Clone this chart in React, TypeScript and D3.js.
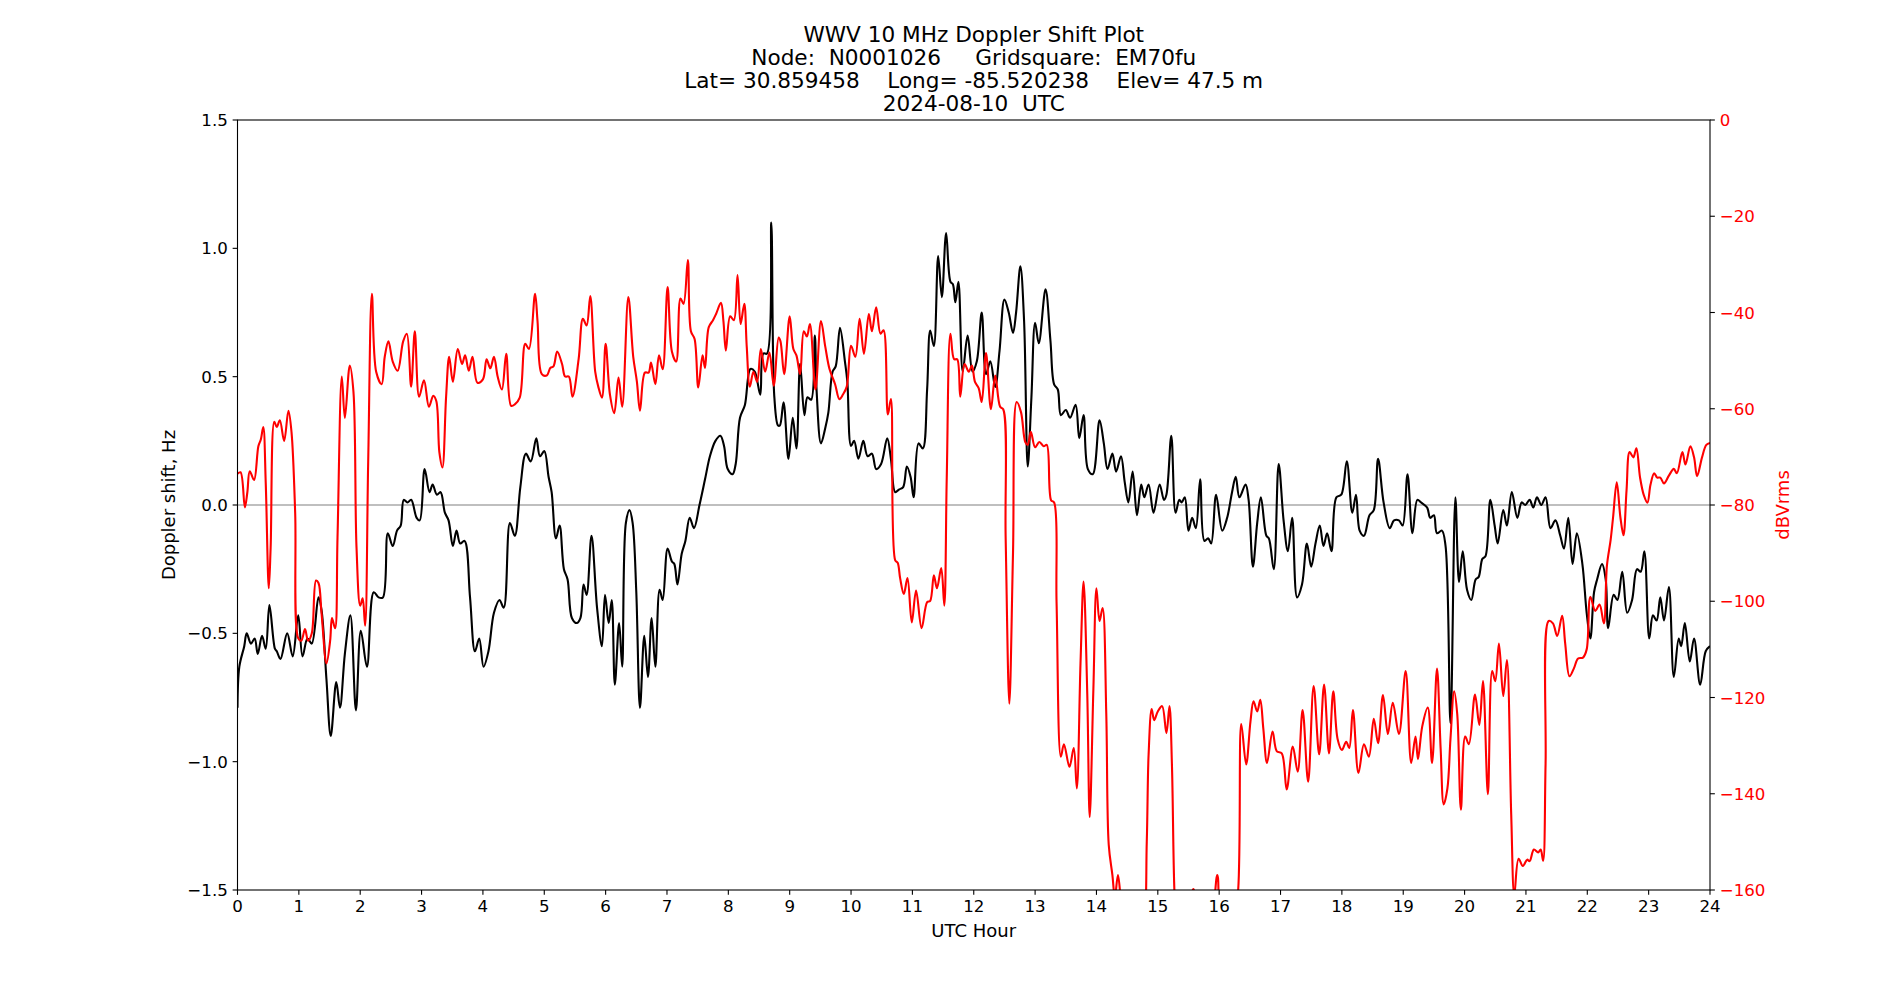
import React from 'react';
import * as d3 from 'd3';

// Doppler shift (Hz), [UTC hour, value]
const dopplerSeries: [number, number][] = [
  [0.0, -0.79], [0.03, -0.63], [0.11, -0.55], [0.15, -0.5], [0.22, -0.54], [0.28, -0.52], [0.33, -0.58],
  [0.4, -0.51], [0.46, -0.56], [0.52, -0.39], [0.61, -0.56], [0.64, -0.57], [0.7, -0.6], [0.81, -0.5],
  [0.9, -0.59], [0.99, -0.43], [1.06, -0.59], [1.14, -0.52], [1.21, -0.54], [1.32, -0.36], [1.37, -0.41],
  [1.45, -0.68], [1.52, -0.9], [1.61, -0.69], [1.67, -0.79], [1.75, -0.58], [1.84, -0.43], [1.93, -0.8],
  [2.01, -0.49], [2.11, -0.63], [2.22, -0.34], [2.3, -0.36], [2.37, -0.36], [2.45, -0.11], [2.53, -0.16],
  [2.6, -0.1], [2.66, -0.08], [2.71, 0.02], [2.77, 0.01], [2.83, 0.02], [2.92, -0.05], [2.97, -0.06],
  [3.05, 0.14], [3.13, 0.05], [3.18, 0.08], [3.25, 0.04], [3.31, 0.05], [3.38, -0.03], [3.44, -0.06],
  [3.51, -0.16], [3.57, -0.1], [3.63, -0.15], [3.7, -0.14], [3.79, -0.36], [3.87, -0.57], [3.94, -0.52],
  [4.01, -0.63], [4.09, -0.57], [4.18, -0.42], [4.27, -0.37], [4.34, -0.4], [4.44, -0.07], [4.52, -0.12],
  [4.61, 0.07], [4.7, 0.2], [4.78, 0.17], [4.87, 0.26], [4.93, 0.19], [5.0, 0.21], [5.07, 0.11],
  [5.12, 0.05], [5.19, -0.13], [5.25, -0.08], [5.32, -0.25], [5.38, -0.29], [5.45, -0.44], [5.53, -0.46],
  [5.59, -0.44], [5.64, -0.31], [5.69, -0.35], [5.77, -0.12], [5.86, -0.4], [5.94, -0.55], [5.99, -0.35],
  [6.05, -0.46], [6.1, -0.37], [6.15, -0.7], [6.22, -0.46], [6.27, -0.63], [6.33, -0.07], [6.39, -0.02],
  [6.44, -0.07], [6.5, -0.34], [6.56, -0.79], [6.63, -0.51], [6.69, -0.67], [6.75, -0.44], [6.81, -0.63],
  [6.88, -0.33], [6.93, -0.37], [7.01, -0.17], [7.08, -0.22], [7.12, -0.23], [7.17, -0.31], [7.24, -0.19],
  [7.3, -0.14], [7.37, -0.05], [7.44, -0.09], [7.53, 0.0], [7.62, 0.1], [7.7, 0.19], [7.79, 0.25],
  [7.87, 0.27], [7.93, 0.23], [7.99, 0.14], [8.07, 0.12], [8.12, 0.16], [8.19, 0.34], [8.27, 0.39],
  [8.36, 0.53], [8.43, 0.52], [8.52, 0.43], [8.57, 0.59], [8.63, 0.59], [8.7, 1.1], [8.75, 0.42],
  [8.81, 0.31], [8.84, 0.31], [8.9, 0.4], [8.98, 0.18], [9.05, 0.34], [9.11, 0.22], [9.17, 0.55],
  [9.24, 0.35], [9.29, 0.42], [9.35, 0.41], [9.41, 0.66], [9.44, 0.44], [9.51, 0.24], [9.58, 0.3],
  [9.63, 0.36], [9.7, 0.52], [9.75, 0.54], [9.82, 0.69], [9.9, 0.56], [9.94, 0.48], [10.0, 0.23],
  [10.05, 0.25], [10.12, 0.18], [10.2, 0.25], [10.27, 0.19], [10.34, 0.2], [10.41, 0.14], [10.49, 0.16],
  [10.59, 0.26], [10.65, 0.18], [10.72, 0.05], [10.78, 0.06], [10.85, 0.07], [10.91, 0.15], [10.97, 0.11],
  [11.02, 0.03], [11.1, 0.24], [11.17, 0.22], [11.24, 0.45], [11.29, 0.68], [11.35, 0.62], [11.42, 0.97],
  [11.48, 0.81], [11.55, 1.06], [11.62, 0.87], [11.66, 0.86], [11.7, 0.79], [11.75, 0.87], [11.82, 0.52],
  [11.9, 0.66], [11.98, 0.52], [12.05, 0.56], [12.13, 0.75], [12.2, 0.51], [12.27, 0.56], [12.35, 0.46],
  [12.42, 0.6], [12.5, 0.8], [12.57, 0.75], [12.64, 0.67], [12.69, 0.75], [12.76, 0.93], [12.82, 0.72],
  [12.88, 0.15], [12.94, 0.42], [13.0, 0.71], [13.06, 0.63], [13.17, 0.84], [13.25, 0.64], [13.31, 0.47],
  [13.37, 0.45], [13.42, 0.35], [13.5, 0.37], [13.57, 0.34], [13.66, 0.39], [13.72, 0.26], [13.79, 0.35],
  [13.86, 0.14], [13.94, 0.12], [14.05, 0.33], [14.12, 0.24], [14.18, 0.14], [14.26, 0.2], [14.32, 0.13],
  [14.4, 0.19], [14.46, 0.09], [14.52, 0.01], [14.59, 0.13], [14.66, -0.04], [14.73, 0.08], [14.78, 0.03],
  [14.85, 0.08], [14.93, -0.03], [15.03, 0.08], [15.1, 0.02], [15.14, 0.04], [15.22, 0.27], [15.29, -0.03],
  [15.35, 0.02], [15.39, 0.01], [15.44, 0.03], [15.5, -0.1], [15.56, -0.05], [15.62, -0.09], [15.69, 0.1],
  [15.76, -0.14], [15.82, -0.13], [15.87, -0.15], [15.95, 0.04], [16.05, -0.1], [16.13, -0.05], [16.21, 0.05],
  [16.27, 0.11], [16.33, 0.03], [16.43, 0.08], [16.48, 0.02], [16.55, -0.24], [16.62, -0.07], [16.68, 0.03],
  [16.77, -0.12], [16.81, -0.13], [16.89, -0.25], [16.97, 0.16], [17.05, -0.06], [17.12, -0.18], [17.19, -0.05],
  [17.27, -0.36], [17.35, -0.31], [17.43, -0.15], [17.5, -0.24], [17.57, -0.15], [17.64, -0.08], [17.7, -0.16],
  [17.76, -0.11], [17.83, -0.18], [17.91, 0.03], [17.99, 0.04], [18.08, 0.17], [18.17, -0.03], [18.23, 0.04],
  [18.29, -0.1], [18.36, -0.12], [18.45, -0.04], [18.52, -0.02], [18.59, 0.18], [18.68, 0.01], [18.78, -0.09],
  [18.85, -0.06], [18.93, -0.06], [18.99, -0.08], [19.07, 0.12], [19.15, -0.11], [19.23, 0.02], [19.29, 0.01],
  [19.39, -0.01], [19.44, -0.05], [19.5, -0.04], [19.55, -0.11], [19.63, -0.1], [19.69, -0.16], [19.77, -0.85],
  [19.85, 0.03], [19.91, -0.3], [19.97, -0.18], [20.04, -0.33], [20.11, -0.37], [20.18, -0.29], [20.23, -0.28],
  [20.29, -0.21], [20.34, -0.2], [20.42, 0.02], [20.49, -0.08], [20.54, -0.15], [20.63, -0.02], [20.69, -0.08],
  [20.77, 0.05], [20.86, -0.05], [20.93, 0.01], [20.99, 0.0], [21.06, 0.02], [21.12, -0.01], [21.18, 0.03],
  [21.25, 0.0], [21.32, 0.03], [21.4, -0.09], [21.48, -0.06], [21.56, -0.12], [21.62, -0.17], [21.69, -0.05],
  [21.76, -0.23], [21.83, -0.11], [21.92, -0.23], [21.99, -0.42], [22.05, -0.52], [22.11, -0.34], [22.16, -0.29],
  [22.24, -0.23], [22.3, -0.29], [22.34, -0.48], [22.43, -0.35], [22.49, -0.37], [22.57, -0.26], [22.65, -0.42],
  [22.73, -0.37], [22.81, -0.25], [22.87, -0.26], [22.93, -0.18], [23.01, -0.52], [23.07, -0.43], [23.13, -0.45],
  [23.19, -0.36], [23.25, -0.45], [23.33, -0.32], [23.41, -0.67], [23.49, -0.52], [23.53, -0.55], [23.59, -0.46],
  [23.67, -0.61], [23.74, -0.52], [23.84, -0.7], [23.93, -0.57], [24.0, -0.55],
];

// received power (dBVrms), [UTC hour, value]; values under -160 fall off the plot
const powerSeries: [number, number][] = [
  [0.0, -73.5], [0.05, -73.2], [0.12, -80.5], [0.16, -77.4], [0.2, -73.0], [0.27, -74.8], [0.34, -67.8],
  [0.38, -66.4], [0.42, -63.8], [0.46, -75.3], [0.51, -97.3], [0.54, -88.9], [0.6, -62.7], [0.64, -63.8],
  [0.69, -62.4], [0.76, -66.7], [0.83, -60.4], [0.88, -64.8], [0.94, -81.6], [0.99, -107.7], [1.04, -108.2],
  [1.1, -105.8], [1.15, -108.2], [1.21, -106.7], [1.28, -95.7], [1.32, -96.2], [1.37, -102.5], [1.45, -112.9],
  [1.51, -108.2], [1.54, -103.5], [1.59, -105.6], [1.63, -86.8], [1.7, -53.3], [1.75, -61.9], [1.83, -51.0],
  [1.89, -56.5], [1.94, -88.9], [2.0, -100.9], [2.04, -99.4], [2.08, -105.1], [2.13, -71.1], [2.19, -36.1],
  [2.26, -52.3], [2.35, -54.9], [2.4, -49.2], [2.46, -46.0], [2.53, -50.2], [2.61, -52.1], [2.7, -46.0],
  [2.76, -44.4], [2.83, -55.4], [2.89, -43.9], [2.96, -57.5], [3.04, -54.1], [3.12, -59.6], [3.19, -57.3],
  [3.24, -58.4], [3.29, -69.0], [3.34, -72.2], [3.4, -57.5], [3.45, -49.2], [3.51, -54.4], [3.59, -47.6],
  [3.66, -50.7], [3.71, -48.9], [3.77, -52.1], [3.83, -49.2], [3.91, -54.6], [4.0, -53.9], [4.06, -49.7],
  [4.12, -51.6], [4.18, -49.2], [4.24, -53.3], [4.31, -56.0], [4.38, -48.6], [4.46, -59.4], [4.52, -59.1],
  [4.6, -57.7], [4.69, -46.5], [4.75, -47.6], [4.85, -36.1], [4.89, -41.8], [4.96, -52.8], [5.04, -53.1],
  [5.1, -51.5], [5.15, -51.2], [5.21, -48.1], [5.29, -50.7], [5.34, -53.3], [5.4, -53.3], [5.46, -57.5],
  [5.56, -49.7], [5.63, -41.3], [5.69, -42.7], [5.75, -36.6], [5.83, -52.3], [5.88, -55.4], [5.94, -57.7],
  [6.0, -46.5], [6.07, -57.0], [6.14, -60.9], [6.21, -53.5], [6.27, -59.6], [6.37, -36.8], [6.45, -49.2],
  [6.51, -54.4], [6.56, -60.4], [6.64, -52.5], [6.7, -52.5], [6.74, -50.4], [6.81, -54.9], [6.87, -48.9],
  [6.93, -51.8], [7.01, -34.7], [7.08, -48.1], [7.15, -50.2], [7.22, -37.1], [7.27, -38.2], [7.34, -29.1],
  [7.39, -43.9], [7.45, -45.5], [7.51, -55.6], [7.58, -48.9], [7.62, -51.5], [7.68, -43.1], [7.75, -41.6],
  [7.8, -40.3], [7.88, -38.0], [7.92, -41.8], [7.96, -47.9], [8.03, -40.8], [8.09, -41.6], [8.15, -32.2],
  [8.2, -42.4], [8.26, -38.2], [8.3, -47.1], [8.35, -55.4], [8.41, -52.3], [8.47, -54.4], [8.53, -47.6],
  [8.6, -52.3], [8.67, -48.3], [8.74, -55.2], [8.82, -45.2], [8.85, -46.0], [8.91, -52.8], [9.0, -40.8],
  [9.06, -47.6], [9.11, -48.9], [9.17, -52.8], [9.23, -43.9], [9.28, -45.0], [9.33, -42.4], [9.42, -56.0],
  [9.51, -41.8], [9.58, -47.1], [9.65, -51.8], [9.74, -54.9], [9.81, -58.0], [9.87, -57.0], [9.93, -55.4],
  [10.0, -46.9], [10.07, -49.2], [10.14, -41.3], [10.21, -48.6], [10.29, -40.3], [10.34, -43.9], [10.41, -38.9],
  [10.48, -44.4], [10.53, -43.7], [10.6, -61.2], [10.65, -58.0], [10.72, -91.5], [10.76, -92.0], [10.8, -95.2],
  [10.86, -98.5], [10.92, -95.2], [10.99, -104.4], [11.06, -97.8], [11.15, -105.6], [11.24, -100.2], [11.29, -99.9],
  [11.35, -94.6], [11.4, -97.3], [11.47, -93.1], [11.52, -100.9], [11.56, -74.3], [11.62, -44.4], [11.68, -49.7],
  [11.73, -49.7], [11.78, -57.5], [11.85, -50.7], [11.92, -52.3], [11.97, -51.0], [12.02, -54.4], [12.08, -55.7],
  [12.13, -58.6], [12.2, -48.4], [12.28, -60.1], [12.35, -53.1], [12.43, -59.6], [12.48, -60.1], [12.52, -86.8],
  [12.58, -121.3], [12.64, -89.9], [12.7, -58.6], [12.77, -60.7], [12.84, -66.9], [12.88, -67.5], [12.93, -64.8],
  [13.0, -68.0], [13.07, -66.9], [13.14, -67.8], [13.19, -67.5], [13.26, -79.0], [13.31, -79.5], [13.35, -100.4],
  [13.42, -132.3], [13.47, -129.7], [13.56, -134.4], [13.63, -130.5], [13.68, -138.9], [13.74, -112.9], [13.79, -95.9],
  [13.85, -119.2], [13.89, -144.8], [13.95, -118.2], [14.0, -97.3], [14.05, -104.1], [14.1, -101.4], [14.16, -123.4],
  [14.2, -150.6], [14.26, -156.9], [14.3, -161.5], [14.35, -156.9], [14.4, -162.5], [14.48, -172], [14.62, -175],
  [14.76, -170], [14.82, -150], [14.85, -131.8], [14.9, -122.4], [14.94, -124.7], [15.0, -122.9], [15.07, -121.8],
  [15.14, -127.4], [15.19, -121.8], [15.23, -133.9], [15.27, -160], [15.32, -172], [15.45, -168], [15.58, -159.8],
  [15.7, -170], [15.85, -168], [15.97, -156.9], [16.05, -170], [16.2, -172], [16.31, -160], [16.36, -125.5],
  [16.44, -133.9], [16.51, -125.0], [16.56, -120.8], [16.62, -122.9], [16.67, -120.5], [16.72, -126.5], [16.78, -133.6],
  [16.87, -127.1], [16.94, -131.2], [17.02, -131.6], [17.1, -139.1], [17.2, -130.2], [17.28, -135.4], [17.36, -122.6],
  [17.45, -137.5], [17.54, -117.6], [17.63, -131.8], [17.71, -117.3], [17.79, -131.6], [17.86, -118.7], [17.93, -128.6],
  [18.0, -130.9], [18.07, -129.2], [18.12, -130.5], [18.18, -122.6], [18.27, -135.7], [18.36, -129.7], [18.44, -132.3],
  [18.52, -124.4], [18.59, -129.5], [18.67, -119.5], [18.75, -127.6], [18.83, -121.1], [18.93, -127.6], [19.04, -114.5],
  [19.13, -133.6], [19.2, -128.1], [19.24, -132.8], [19.31, -126.0], [19.4, -122.1], [19.47, -133.6], [19.55, -114.0],
  [19.61, -130.7], [19.66, -142.2], [19.72, -138.9], [19.77, -128.6], [19.83, -118.7], [19.88, -123.4], [19.94, -143.3],
  [20.01, -128.1], [20.07, -129.7], [20.17, -119.4], [20.24, -125.7], [20.3, -116.6], [20.38, -140.1], [20.45, -114.5],
  [20.5, -116.6], [20.56, -108.8], [20.63, -119.7], [20.69, -112.2], [20.76, -144.3], [20.81, -161], [20.88, -153.5],
  [20.95, -155.0], [21.02, -153.7], [21.06, -154.0], [21.13, -151.6], [21.2, -152.2], [21.24, -151.6], [21.28, -153.9],
  [21.32, -133.9], [21.37, -104.1], [21.44, -104.6], [21.51, -107.2], [21.59, -103.0], [21.64, -108.8], [21.71, -115.6],
  [21.78, -114.0], [21.85, -111.9], [21.93, -111.7], [21.99, -110.0], [22.05, -99.1], [22.13, -102.0], [22.2, -100.7],
  [22.27, -104.6], [22.32, -92.6], [22.38, -87.3], [22.42, -82.6], [22.48, -75.3], [22.54, -82.6], [22.59, -86.3],
  [22.64, -76.9], [22.69, -69.0], [22.75, -70.1], [22.8, -68.2], [22.86, -74.3], [22.92, -77.9], [22.98, -79.5],
  [23.03, -75.8], [23.09, -73.4], [23.14, -74.3], [23.19, -74.3], [23.25, -75.5], [23.33, -73.9], [23.41, -72.5],
  [23.46, -73.4], [23.55, -69.0], [23.6, -71.6], [23.68, -67.8], [23.74, -70.1], [23.79, -74.0], [23.87, -70.1],
  [23.94, -67.5], [24.0, -67.1],
];

const hourTicks = d3.range(0, 25);
const dopplerTicks = [-1.5, -1.0, -0.5, 0.0, 0.5, 1.0, 1.5];
const powerTicks = [0, -20, -40, -60, -80, -100, -120, -140, -160];

const titleLines = [
  'WWV 10 MHz Doppler Shift Plot',
  'Node:  N0001026     Gridsquare:  EM70fu',
  'Lat= 30.859458    Long= -85.520238    Elev= 47.5 m',
  '2024-08-10  UTC',
];

const W = 1900;
const H = 1000;
const margin = { top: 120, right: 190, bottom: 110, left: 237.5 };
const FONT = 'DejaVu Sans, sans-serif';
const FS = 16.67;
const TITLE_FS = 21.6;
const LABEL_FS = 18;

const minus = (s: string) => s.replace('-', '\u2212');

export default function App() {
  const x = d3.scaleLinear().domain([0, 24]).range([margin.left, W - margin.right]);
  const y = d3.scaleLinear().domain([-1.5, 1.5]).range([H - margin.bottom, margin.top]);
  const y2 = d3.scaleLinear().domain([-160, 0]).range([H - margin.bottom, margin.top]);

  const curve = d3.curveCatmullRom.alpha(0.5);
  const dopplerLine = d3.line<[number, number]>().x(d => x(d[0])).y(d => y(d[1])).curve(curve);
  const powerLine = d3.line<[number, number]>().x(d => x(d[0])).y(d => y2(d[1])).curve(curve);

  const x0 = margin.left;
  const x1 = W - margin.right;
  const yTop = margin.top;
  const yBot = H - margin.bottom;
  const tick = 4.86;

  return (
    <svg width={W} height={H} style={{ position: 'absolute', left: 0, top: 0, background: '#fff' }}
      fontFamily={FONT}>
      <defs>
        <clipPath id="plot">
          <rect x={x0} y={yTop} width={x1 - x0} height={yBot - yTop} />
        </clipPath>
      </defs>

      {titleLines.map((t, i) => (
        <text key={t} x={(x0 + x1) / 2} y={42 + i * 23} fontSize={TITLE_FS} textAnchor="middle"
          style={{ whiteSpace: 'pre' }}>{t}</text>
      ))}

      <g clipPath="url(#plot)">
        <line x1={x0} x2={x1} y1={y(0)} y2={y(0)} stroke="#808080" strokeWidth={1.1} />
        <path d={dopplerLine(dopplerSeries) ?? ''} fill="none" stroke="#000" strokeWidth={2.1} />
        <path d={powerLine(powerSeries) ?? ''} fill="none" stroke="#ff0000" strokeWidth={2.1} />
      </g>

      <rect x={x0} y={yTop} width={x1 - x0} height={yBot - yTop} fill="none" stroke="#000" strokeWidth={1.1} />

      {hourTicks.map(h => (
        <g key={h}>
          <line x1={x(h)} x2={x(h)} y1={yBot} y2={yBot + tick} stroke="#000" strokeWidth={1.1} />
          <text x={x(h)} y={yBot + 22} fontSize={FS} textAnchor="middle">{h}</text>
        </g>
      ))}

      {dopplerTicks.map(v => (
        <g key={v}>
          <line x1={x0 - tick} x2={x0} y1={y(v)} y2={y(v)} stroke="#000" strokeWidth={1.1} />
          <text x={x0 - 9.7} y={y(v)} dy="0.36em" fontSize={FS} textAnchor="end">{minus(v.toFixed(1))}</text>
        </g>
      ))}

      {powerTicks.map(v => (
        <g key={v}>
          <line x1={x1} x2={x1 + tick} y1={y2(v)} y2={y2(v)} stroke="#000" strokeWidth={1.1} />
          <text x={x1 + 9.7} y={y2(v)} dy="0.36em" fontSize={FS} textAnchor="start" fill="#ff0000">{minus(String(v))}</text>
        </g>
      ))}

      <text x={(x0 + x1) / 2} y={937} fontSize={LABEL_FS} textAnchor="middle">UTC Hour</text>
      <text transform={`translate(174.5,${(yTop + yBot) / 2}) rotate(-90)`} fontSize={LABEL_FS} textAnchor="middle">
        Doppler shift, Hz
      </text>
      <text transform={`translate(1789,${(yTop + yBot) / 2}) rotate(-90)`} fontSize={LABEL_FS} textAnchor="middle" fill="#ff0000">
        dBVrms
      </text>
    </svg>
  );
}
